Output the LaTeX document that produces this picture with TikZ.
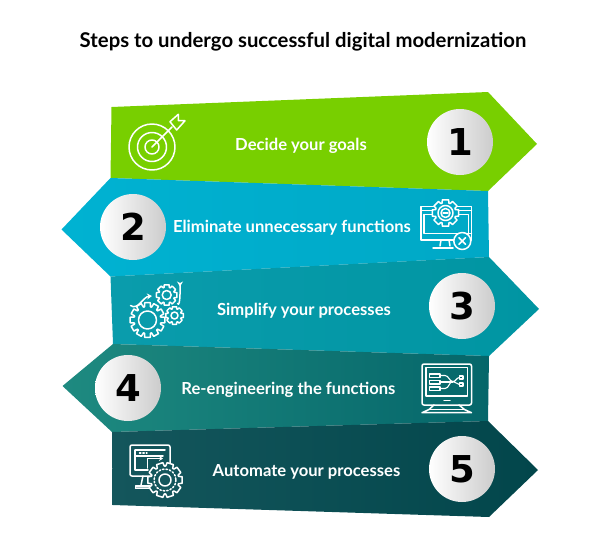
\documentclass[tikz,border=0pt]{standalone}
\usepackage{fontspec}
\setmainfont{Lato}
\newfontfamily\digitfont{DejaVu Sans}
\usetikzlibrary{arrows.meta}
\definecolor{leafgreen}{HTML}{78CF00}
\definecolor{skyA}{HTML}{00B2D2}
\definecolor{skyB}{HTML}{00A8C6}
\definecolor{tealA}{HTML}{0A9CAC}
\definecolor{tealB}{HTML}{0095A2}
\definecolor{pineA}{HTML}{1E8A80}
\definecolor{pineB}{HTML}{05666A}
\definecolor{deepA}{HTML}{14565C}
\definecolor{deepB}{HTML}{02464B}
\tikzset{
	ballnode/.style={circle, minimum size=66pt, inner sep=0pt, left color=white, right color=black!20, font=\digitfont\bfseries\fontsize{37}{37}\selectfont},
	stepname/.style={text=white, font=\bfseries\fontsize{16.6}{18}\selectfont},
	iconline/.style={draw=white, line width=1.5pt, line join=round, line cap=round},
}
% x, y, outer radius, root radius, teeth
\newcommand{\cogwheel}[6]{
	\draw[iconline, fill=#6, shift={(#1,#2)}] (-.3*360/#5:#3)
		\foreach \k [evaluate=\k as \t using \k*360/#5] in {1,...,#5}{
			-- (\t-.7*360/#5:#3) -- (\t-.58*360/#5:#4) -- (\t-.42*360/#5:#4) -- (\t-.3*360/#5:#3)
		} -- cycle;
}
\begin{document}
\begin{tikzpicture}[x=1pt,y=-1pt]
	\useasboundingbox (0,0) rectangle (600,536);
	\node[font=\bfseries\fontsize{20.3}{22}\selectfont] (title) at (303,42) {Steps to undergo successful digital modernization};

	% the five arrow bands, top to bottom
	\fill[leafgreen] (111.5,107) -- (488,92) -- (537,144) -- (488,191) -- (110.5,178) -- cycle;
	\shade[left color=skyA, right color=skyB] (110.5,178) -- (488,191) -- (489,257) -- (110.5,276.5) -- (61.5,229.5) -- cycle;
	\shade[left color=tealA, right color=tealB] (110.5,276.5) -- (489,257) -- (539,309) -- (489,356) -- (113,344) -- cycle;
	\shade[left color=pineA, right color=pineB] (113,344) -- (489,356) -- (488,421) -- (112,432) -- (62.5,386) -- cycle;
	\shade[left color=deepA, right color=deepB] (112,432) -- (488,421) -- (538,470) -- (489,517) -- (112.5,505) -- cycle;

	\foreach \x/\y/\n in {460/142/1, 133/227/2, 462/306/3, 128/388/4, 462/469/5}{
		\node[ballnode] (ball\n) at (\x,\y) {\n};
	}
	\foreach \x/\y/\n/\t in {301/146/1/Decide your goals, 292/228/2/Eliminate unnecessary functions, 304/311/3/Simplify your processes, 288.5/390/4/Re-engineering the functions, 306.5/472/5/Automate your processes}{
		\node[stepname] (name\n) at (\x,\y) {\t};
	}

	% target
	\foreach \r in {23,14.5,7}{
		\draw[iconline] (152,147) circle (\r);
	}
	\draw[iconline] (152,147) -- (172,127);
	\draw[iconline] (170,121.7) -- (178.3,114.3) -- (178.3,120.7) -- (185,120.7) -- (176.7,130) -- cycle;

	% monitor, cog and cross
	\draw[iconline] (421,206.5) rectangle (471.5,240);
	\draw[iconline] (421,210.5) -- (471.5,210.5);
	\draw[iconline] (424,214.5) -- (468.5,214.5) -- (468.5,234);
	\draw[iconline] (424,214.5) -- (424,233.5) -- (471.5,233.5);
	\draw[iconline] (441,240) -- (440,246) (449,240) -- (450,246);
	\draw[iconline] (433,248) -- (453,248);
	\cogwheel{445.5}{213}{13.5}{10.5}{8}{skyB}
	\draw[iconline] (445.5,213) circle (7.5) circle (4.5);
	\draw[iconline] (443,213) -- (448,213);
	\draw[iconline, fill=skyB] (462.3,241) circle (8.5);
	\draw[iconline] (459,237.7) -- (465.6,244.3) (465.6,237.7) -- (459,244.3);

	% three cogs with arrows
	\cogwheel{147.5}{320}{17.5}{13.5}{12}{none}
	\draw[iconline] (147.5,320) circle (9);
	\cogwheel{166.7}{295}{10.5}{8}{8}{none}
	\draw[iconline] (166.7,295) circle (4.5);
	\cogwheel{174.5}{315.5}{9}{7}{8}{none}
	\draw[iconline] (174.5,315.5) circle (3.5);
	\draw[iconline, -{Stealth[length=5pt,width=6pt]}] (130.5,305.5) to[out=-35, in=185] (152,296);
	\draw[iconline, -{Stealth[length=5pt,width=6pt]}] (177.5,303.5) to[out=-60, in=90] (180,286.5);

	% monitor with flow chart
	\draw[iconline, rounded corners=2pt] (422,364) rectangle (471.5,405);
	\draw[iconline] (426,367.5) rectangle (467.5,396);
	\draw[iconline] (444,400.5) -- (450,400.5);
	\draw[iconline] (434,405) -- (429,409.5) -- (422,412.7) -- (471.5,412.7) -- (464.5,409.5) -- (459,405);
	\draw[iconline] (429,409.5) -- (464.5,409.5);
	\foreach \y in {374,380.5,387}{
		\draw[iconline, line width=1.1pt] (429.5,\y) rectangle (440,\y+3.5);
	}
	\foreach \y in {376,383}{
		\draw[iconline, line width=1.1pt] (459.5,\y) rectangle (463,\y+3);
	}
	\draw[iconline, line width=1.1pt] (440,375.5) -- (445,375.5) to[out=0, in=180] (453,381.5) (440,388.5) -- (445,388.5) to[out=0, in=180] (453,381.5);
	\draw[iconline, line width=1.1pt] (440,382) -- (453,382);
	\draw[iconline, line width=1.1pt] (453,381.5) to[out=0, in=180] (459.5,377.5) (453,381.5) to[out=0, in=180] (459.5,384.5);

	% screen with cog
	\draw[iconline, rounded corners=2pt] (130,445) rectangle (170,476);
	\draw[iconline] (135,450) -- (165,450) (135,450) -- (135,470) -- (148,470);
	\draw[iconline] (135,456) -- (163,456);
	\draw[iconline, line width=1.4pt, dotted] (139.5,452.8) -- (147,452.8);
	\draw[iconline, -{Stealth[length=4pt,width=5pt]}] (147.5,468) -- (147.5,458.5) -- (163,458.5);
	\draw[iconline] (143,476) -- (141,485) (135.5,488) -- (150,488);
	\draw[iconline] (135.5,488) -- (135.5,486) -- (150,486);
	\cogwheel{165}{480}{17.5}{14}{10}{deepA}
	\draw[iconline, dotted] (165,480) circle (11);
	\draw[iconline] (165,480) circle (6);
\end{tikzpicture}
\end{document}
